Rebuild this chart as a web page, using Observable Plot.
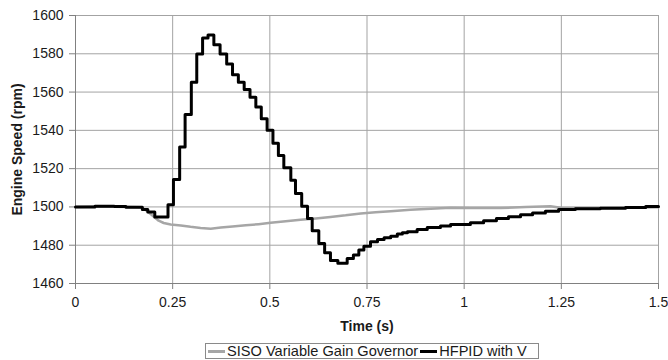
<!DOCTYPE html>
<html>
<head>
<meta charset="utf-8">
<script src="https://cdn.jsdelivr.net/npm/d3@7"></script>
<script src="https://cdn.jsdelivr.net/npm/@observablehq/plot@0.6"></script>
<style>
  html, body { margin: 0; padding: 0; background: #fff; }
  #wrap { width: 668px; height: 360px; position: relative; font-family: "Liberation Sans", Arial, sans-serif; }
  #legend {
    position: absolute; left: 205px; top: 343px; width: 334px; height: 16px;
    box-sizing: border-box; border: 1px solid #8a8a8a; background: #fff;
    display: flex; align-items: center; font-size: 14.6px; color: #1a1a1a; white-space: nowrap;
  }
  .sw { display: inline-block; width: 17px; height: 3px; margin: 0 2px 0 2px; }
</style>
</head>
<body>
<div id="wrap"></div>
<script>
// Series: HFPID with V (black, stepped)
const hfpidT = [0, 0.05, 0.10, 0.13, 0.172, 0.186, 0.204, 0.238, 0.252, 0.268, 0.282, 0.298, 0.312, 0.327, 0.341, 0.356, 0.372, 0.389, 0.404, 0.419, 0.434, 0.449, 0.464, 0.478, 0.493, 0.508, 0.522, 0.536, 0.554, 0.566, 0.582, 0.597, 0.609, 0.626, 0.641, 0.656, 0.675, 0.699, 0.715, 0.729, 0.742, 0.759, 0.777, 0.794, 0.811, 0.828, 0.841, 0.854, 0.879, 0.905, 0.939, 0.965, 1.016, 1.050, 1.083, 1.114, 1.145, 1.176, 1.209, 1.243, 1.286, 1.350, 1.415, 1.467, 1.5];
const hfpidV = [1500, 1500.3, 1500.2, 1499.8, 1498.6, 1497.4, 1494.8, 1501.2, 1514.3, 1531.3, 1548.3, 1565.1, 1579.9, 1588.2, 1589.8, 1584.7, 1579.9, 1574.7, 1569.1, 1565.1, 1561.3, 1557.3, 1552.2, 1546.0, 1540.0, 1533.3, 1526.9, 1520.5, 1513.9, 1507.0, 1500.4, 1494.0, 1487.5, 1480.9, 1476.0, 1472.0, 1470.6, 1473.1, 1474.9, 1477.5, 1479.5, 1481.8, 1483.0, 1483.9, 1484.7, 1485.8, 1486.5, 1487.0, 1488.2, 1489.3, 1490.0, 1490.8, 1491.8, 1492.8, 1493.9, 1494.9, 1495.9, 1496.8, 1497.7, 1498.6, 1499.0, 1499.3, 1499.7, 1500.2, 1500.2];

// Series: SISO Variable Gain Governor (gray)
const sisoT = [0, 0.065, 0.170, 0.183, 0.194, 0.204, 0.214, 0.227, 0.245, 0.271, 0.296, 0.322, 0.348, 0.374, 0.404, 0.438, 0.471, 0.502, 0.541, 0.579, 0.618, 0.656, 0.695, 0.734, 0.772, 0.811, 0.862, 0.914, 0.965, 1.016, 1.094, 1.158, 1.222, 1.248, 1.350, 1.427, 1.5];
const sisoV = [1500, 1500.2, 1499.8, 1498.0, 1496.2, 1494.5, 1492.8, 1491.6, 1490.8, 1490.3, 1489.6, 1489.0, 1488.6, 1489.2, 1489.8, 1490.4, 1491.0, 1491.7, 1492.5, 1493.3, 1494.0, 1494.8, 1495.6, 1496.6, 1497.2, 1497.8, 1498.5, 1499.1, 1499.6, 1499.5, 1499.4, 1499.9, 1500.4, 1499.6, 1499.4, 1499.6, 1499.8];

const seriesNames = ["SISO Variable Gain Governor", "HFPID with V"];
const xTicks = [0, 0.25, 0.5, 0.75, 1, 1.25, 1.5];
const yTicks = [1460, 1480, 1500, 1520, 1540, 1560, 1580, 1600];
const xLabel = "Time (s)";
const yLabel = "Engine Speed (rpm)";

const hfpid = hfpidT.map((t, i) => ({t, v: hfpidV[i]}));
const siso = sisoT.map((t, i) => ({t, v: sisoV[i]}));

const gridColor = "#a3a3a3";
const axisColor = "#808080";

const chart = Plot.plot({
  width: 668,
  height: 342,
  marginLeft: 75,
  marginRight: 10,
  marginTop: 15,
  marginBottom: 59,
  style: {fontFamily: "'Liberation Sans', Arial, sans-serif", fontSize: "14px", color: "#1a1a1a", background: "#fff"},
  x: {domain: [0, 1.5]},
  y: {domain: [1460, 1600]},
  marks: [
    Plot.gridX(xTicks, {stroke: gridColor, strokeOpacity: 1}),
    Plot.gridY(yTicks, {stroke: gridColor, strokeOpacity: 1}),
    Plot.axisX(xTicks, {tickSize: 6, tickPadding: 8, tickFormat: d => String(d), label: null, stroke: axisColor}),
    Plot.axisY(yTicks, {tickSize: 6, tickPadding: 6, tickFormat: d => String(d), label: null, stroke: axisColor}),
    Plot.ruleX([0], {stroke: axisColor}),
    Plot.ruleY([1460], {stroke: axisColor}),
    Plot.line(siso, {x: "t", y: "v", stroke: "#a6a6a6", strokeWidth: 2.5}),
    Plot.line(hfpid, {x: "t", y: "v", stroke: "#000", strokeWidth: 3, curve: "step-after"}),
    Plot.text([yLabel], {text: d => d, frameAnchor: "left", dx: -58, rotate: -90, textAnchor: "middle", fontWeight: "bold"}),
    Plot.text([xLabel], {text: d => d, frameAnchor: "bottom", dy: 47, fontWeight: "bold"})
  ]
});

const wrap = document.getElementById("wrap");
wrap.appendChild(chart);
const legend = document.createElement("div");
legend.id = "legend";
const colors = ["#a6a6a6", "#000"];
seriesNames.forEach((name, i) => {
  const sw = document.createElement("span");
  sw.className = "sw";
  sw.style.background = colors[i];
  legend.appendChild(sw);
  const tx = document.createElement("span");
  tx.textContent = name;
  legend.appendChild(tx);
});
wrap.appendChild(legend);
</script>
</body>
</html>
